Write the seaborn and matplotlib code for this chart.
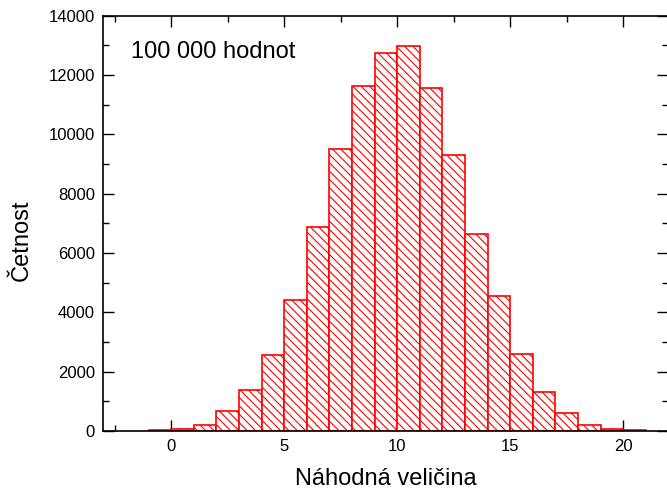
import numpy as np
import pandas as pd
import matplotlib
matplotlib.use("Agg")
import matplotlib.pyplot as plt
from matplotlib.ticker import MultipleLocator
import seaborn as sns

# bin left edges (width 1) and counts
bin_left = [-1, 0, 1, 2, 3, 4, 5, 6, 7, 8, 9, 10, 11, 12, 13, 14, 15, 16, 17, 18, 19, 20]
counts = [20, 67, 213, 664, 1383, 2560, 4425, 6875, 9490, 11630, 12730, 12990,
          11570, 9300, 6640, 4555, 2590, 1327, 618, 213, 67, 20]
x_ticks = [0, 5, 10, 15, 20]
y_ticks = [0, 2000, 4000, 6000, 8000, 10000, 12000, 14000]

df = pd.DataFrame({"x": np.array(bin_left) + 0.5, "n": counts})
edges = list(bin_left) + [bin_left[-1] + 1]

sns.set_theme(style="ticks")
plt.rcParams["font.family"] = ["Liberation Sans", "DejaVu Sans"]
plt.rcParams["text.color"] = "black"
plt.rcParams["axes.labelcolor"] = "black"
plt.rcParams["hatch.color"] = "red"
plt.rcParams["hatch.linewidth"] = 0.8

fig = plt.figure(figsize=(6.67, 4.93), dpi=100)
ax = fig.add_axes([0.155, 0.126, 0.847, 0.842])

sns.histplot(data=df, x="x", weights="n", bins=edges, ax=ax,
             color="white", edgecolor="red", linewidth=1.2,
             hatch="\\\\\\\\", alpha=1.0)

ax.set_xlim(-3, 22)
ax.set_ylim(0, 14000)
ax.set_xticks(x_ticks)
ax.set_yticks(y_ticks)
ax.xaxis.set_minor_locator(MultipleLocator(2.5))
ax.yaxis.set_minor_locator(MultipleLocator(1000))
ax.tick_params(which="both", direction="in", top=True, right=True,
               labelsize=12, colors="black", width=1)
ax.tick_params(which="major", length=8, pad=6)
ax.tick_params(which="minor", length=4)
for s in ax.spines.values():
    s.set_color("black")
    s.set_linewidth(1.2)

ax.set_xlabel("Náhodná veličina", fontsize=17, labelpad=10, color="black")
ax.set_ylabel("Četnost", fontsize=17, labelpad=8, color="black")
ax.yaxis.set_label_coords(-0.125, 0.46)
ax.text(0.048, 0.912, "100 000 hodnot", transform=ax.transAxes,
        fontsize=17, va="center", ha="left", color="black")

fig.savefig("out.png", dpi=100)
